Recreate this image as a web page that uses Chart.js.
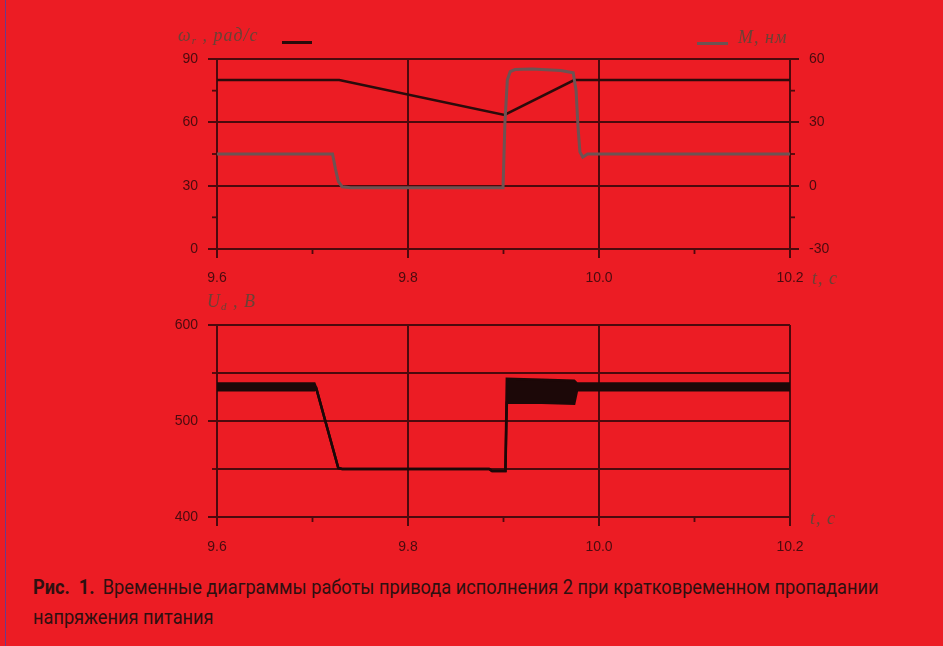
<!DOCTYPE html>
<html>
<head>
<meta charset="utf-8">
<script src="https://cdn.jsdelivr.net/npm/chart.js@4.4.0/dist/chart.umd.min.js"></script>
<style>
  html, body { margin: 0; padding: 0; }
  #page { position: relative; width: 943px; height: 646px; background: #ec1c24; overflow: hidden; }
  canvas { position: absolute; left: 0; }
  #leftRule { position: absolute; left: 5px; top: 0; width: 1px; height: 646px; background: #6a3c8c; }
  .lbl { position: absolute; font-family: "Liberation Serif", serif; font-style: italic; color: #6a4236;
         font-size: 18px; white-space: nowrap; line-height: 1; letter-spacing: 1px; }
  .lbl sub { font-size: 11px; vertical-align: -3px; }
  .key { position: absolute; height: 3px; }
  #caption { position: absolute; left: 33px; top: 572px; font-family: "Roboto", sans-serif;
             font-size: 20px; line-height: 30px; color: #2e1010; white-space: nowrap;
             transform: scaleX(0.91); transform-origin: 0 0; }
  #caption b { margin-right: 4px; }
</style>
</head>
<body>
<div id="page">
  <div id="leftRule"></div>
  <canvas id="grTop" width="943" height="290" style="top:0"></canvas>
  <canvas id="grBottom" width="943" height="270" style="top:290px"></canvas>

  <div class="lbl" style="left:178px; top:26px">ω<sub>r</sub> , рад/с</div>
  <div class="key" style="left:282px; top:41px; width:30px; background:#2b0b0b"></div>
  <div class="key" style="left:697px; top:42px; width:31px; background:#6d5353"></div>
  <div class="lbl" style="left:738px; top:28px">M, нм</div>
  <div class="lbl" style="left:812px; top:269px">t, c</div>
  <div class="lbl" style="left:207px; top:292px">U<sub>d</sub> , В</div>
  <div class="lbl" style="left:810px; top:509px">t, c</div>

  <div id="caption"><b>Рис.&nbsp; 1.</b> Временные диаграммы работы привода исполнения 2 при кратковременном пропадании<br>напряжения питания</div>
</div>

<script type="text/javascript">

    // время, с
    var xMajor = [9.6, 9.8, 10.0, 10.2]
    var xMinor = [9.7, 9.9, 10.1]

    // скорость ω, рад/с (левая ось верхнего графика)
    var omegaT = [9.6, 9.728, 9.901, 9.974, 10.2]
    var omegaV = [80, 80, 63.5, 80, 80]
    var omegaTicks = [0, 30, 60, 90]
    var omegaMinor = [15, 45, 75]

    // момент M, нм (правая ось)
    var torqueT = [9.6, 9.721, 9.724, 9.727, 9.731, 9.74, 9.8995, 9.9015, 9.904, 9.907, 9.912, 9.93, 9.96, 9.973, 9.976, 9.978, 9.980, 9.983, 9.988, 10.2]
    var torqueV = [15, 15, 8, 2, -0.5, -1, -1, 30, 50, 54, 55, 55.3, 54.5, 53.5, 45, 28, 16, 13.5, 15, 15]
    var torqueTicks = [-30, 0, 30, 60]
    var torqueMinor = [-15, 15, 45]

    // напряжение Ud, В: нижняя и верхняя граница пульсаций
    var udT    = [9.6, 9.702, 9.704, 9.727, 9.731, 9.885, 9.888, 9.899, 9.902, 9.9035, 9.94, 9.974, 9.977, 10.2]
    var udLow  = [532, 532, 534, 451, 450, 450, 448, 448, 448, 519, 519, 518, 532, 532]
    var udHigh = [539, 539, 534, 451, 450, 450, 448, 448, 448, 544, 543, 542, 539, 539]
    var udTicks = [400, 450, 500, 550, 600]
    var udLabels = [400, 500, 600]
    var udMinor = [450, 550]

    var axisColor = '#4c090d'
    var labelColor = '#4a0b0f'
    var tickFont = { family: 'Liberation Sans', size: 14 }

    function pts(ts, vs) {
        return ts.map((t, i) => ({ x: t, y: vs[i] }))
    }

    // короткие промежуточные риски наружу от оси
    function minorTicksPlugin(map) {
        return {
            id: 'minorTicks',
            afterDraw(chart) {
                let ctx = chart.ctx
                ctx.save()
                ctx.strokeStyle = axisColor
                ctx.lineWidth = 1.8
                Object.keys(map).forEach(id => {
                    let s = chart.scales[id]
                    map[id].forEach(v => {
                        let p = s.getPixelForValue(v)
                        ctx.beginPath()
                        if (s.isHorizontal()) { ctx.moveTo(p, s.top); ctx.lineTo(p, s.top + 5) }
                        else if (s.position === 'left') { ctx.moveTo(s.right - 5, p); ctx.lineTo(s.right, p) }
                        else { ctx.moveTo(s.left, p); ctx.lineTo(s.left + 5, p) }
                        ctx.stroke()
                    })
                })
                ctx.restore()
            }
        }
    }

    function xScale(height, pad) {
        return {
            type: 'linear', min: 9.6, max: 10.2,
            afterBuildTicks: s => { s.ticks = xMajor.map(v => ({ value: v })) },
            afterFit: s => { s.height = height },
            grid: { color: axisColor, lineWidth: 2, tickLength: 9, tickColor: axisColor },
            border: { color: axisColor, width: 2 },
            ticks: { color: labelColor, font: tickFont, padding: pad, maxRotation: 0,
                     callback: v => v.toFixed(1) }
        }
    }

    new Chart(document.getElementById('grTop'), {
        type: 'line',
        data: {
            datasets: [{
                label: 'M',
                data: pts(torqueT, torqueV),
                yAxisID: 'y1',
                borderColor: '#6d5353',
                borderWidth: 3,
                pointRadius: 0,
                tension: 0
            }, {
                label: 'ω',
                data: pts(omegaT, omegaV),
                yAxisID: 'y',
                borderColor: '#2b0b0b',
                borderWidth: 2.5,
                pointRadius: 0,
                tension: 0
            }]
        },
        options: {
            responsive: false,
            animation: false,
            layout: { padding: { top: 59, left: 0, right: 0, bottom: 0 } },
            plugins: { legend: { display: false }, tooltip: { enabled: false } },
            scales: {
                x: xScale(41, 12),
                y: {
                    position: 'left', min: 0, max: 90,
                    afterBuildTicks: s => { s.ticks = omegaTicks.map(v => ({ value: v })) },
                    afterFit: s => { s.width = 217 },
                    grid: { color: axisColor, lineWidth: 2, tickLength: 9, tickColor: axisColor },
                    border: { color: axisColor, width: 2 },
                    ticks: { color: labelColor, font: tickFont, padding: 10 }
                },
                y1: {
                    position: 'right', min: -30, max: 60,
                    afterBuildTicks: s => { s.ticks = torqueTicks.map(v => ({ value: v })) },
                    afterFit: s => { s.width = 153 },
                    grid: { drawOnChartArea: false, tickLength: 9, tickColor: axisColor, lineWidth: 2 },
                    border: { color: axisColor, width: 2 },
                    ticks: { color: labelColor, font: tickFont, padding: 10 }
                }
            }
        },
        plugins: [minorTicksPlugin({ x: xMinor, y: omegaMinor, y1: torqueMinor })]
    });

    new Chart(document.getElementById('grBottom'), {
        type: 'line',
        data: {
            datasets: [{
                label: 'Ud min',
                data: pts(udT, udLow),
                borderColor: '#1c0808',
                borderWidth: 2.5,
                pointRadius: 0,
                tension: 0,
                fill: false
            }, {
                label: 'Ud max',
                data: pts(udT, udHigh),
                borderColor: '#1c0808',
                backgroundColor: '#1c0808',
                borderWidth: 2.5,
                pointRadius: 0,
                tension: 0,
                fill: '-1'
            }]
        },
        options: {
            responsive: false,
            animation: false,
            layout: { padding: { top: 35, left: 0, right: 153, bottom: 0 } },
            plugins: { legend: { display: false }, tooltip: { enabled: false } },
            scales: {
                x: xScale(43, 13),
                y: {
                    position: 'left', min: 400, max: 600,
                    afterBuildTicks: s => { s.ticks = udTicks.map(v => ({ value: v })) },
                    afterFit: s => { s.width = 217 },
                    grid: { color: axisColor, lineWidth: 2, tickLength: 9,
                            tickColor: c => udLabels.includes(c.tick.value) ? axisColor : 'rgba(0,0,0,0)' },
                    border: { color: axisColor, width: 2 },
                    ticks: { color: labelColor, font: tickFont, padding: 10,
                             callback: v => udLabels.includes(v) ? String(v) : '' }
                }
            }
        },
        plugins: [minorTicksPlugin({ x: xMinor, y: udMinor })]
    });

</script>
</body>
</html>
